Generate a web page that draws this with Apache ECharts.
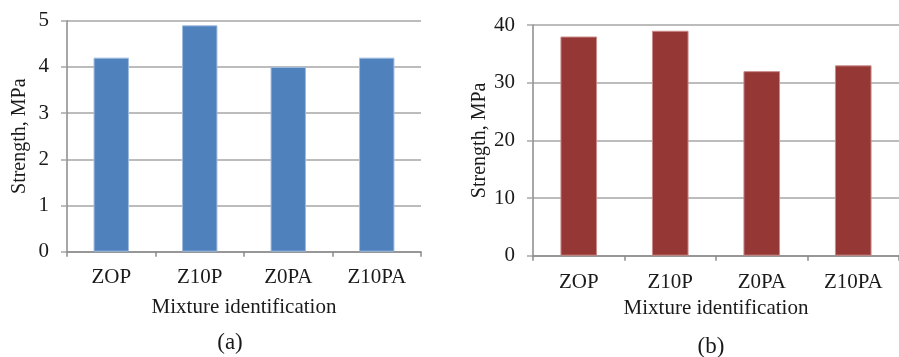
<!DOCTYPE html>
<html>
<head>
<meta charset="utf-8">
<script src="https://cdn.jsdelivr.net/npm/echarts@6/dist/echarts.min.js"></script>
<style>
  html, body { margin: 0; padding: 0; background: #fff; }
  #chart { width: 899px; height: 357px; }
</style>
</head>
<body>
<div id="chart"></div>
<script>
// Mixture identifiers shared by both panels
const categories = ['ZOP', 'Z10P', 'Z0PA', 'Z10PA'];
// Panel (a): strength in MPa
const strengthA = [4.2, 4.9, 4.0, 4.2];
// Panel (b): strength in MPa
const strengthB = [38, 39, 32, 33];
// Y-axis scales
const yMaxA = 5, yStepA = 1;
const yMaxB = 40, yStepB = 10;
const panelLabels = ['(a)', '(b)'];

const FONT = 'Liberation Serif';
const TEXT = '#1a1a1a';
const AXIS = '#8a8a8a';
const GRID = '#a6a6a6';

function xAxisFor(gridIndex, labelMargin, nameGap) {
  return {
    type: 'category',
    gridIndex,
    data: categories,
    name: 'Mixture identification',
    nameLocation: 'middle',
    nameGap: nameGap,
    nameTextStyle: { fontFamily: FONT, fontSize: 21, color: TEXT },
    axisLine: { lineStyle: { color: AXIS, width: 1.5 } },
    axisTick: { show: true, length: 5, lineStyle: { color: AXIS, width: 1.5 } },
    axisLabel: { fontFamily: FONT, fontSize: 21, color: TEXT, margin: labelMargin },
    splitLine: { show: false }
  };
}

function yAxisFor(gridIndex, max, step, gap, margin) {
  return {
    type: 'value',
    gridIndex,
    min: 0,
    max,
    interval: step,
    name: 'Strength, MPa',
    nameLocation: 'middle',
    nameRotate: 90,
    nameGap: gap,
    nameTextStyle: { fontFamily: FONT, fontSize: 20, color: TEXT },
    axisLine: { show: true, lineStyle: { color: AXIS, width: 1.5 } },
    axisTick: { show: true, length: 6, lineStyle: { color: GRID, width: 1.5 } },
    axisLabel: { fontFamily: FONT, fontSize: 21, color: TEXT, margin: margin },
    splitLine: { show: true, lineStyle: { color: GRID, width: 1.5 } }
  };
}

const panelText = (label, x, y) => ({
  type: 'text',
  x, y,
  style: {
    text: label,
    fontFamily: FONT,
    fontSize: 23,
    fill: TEXT,
    textAlign: 'center',
    textVerticalAlign: 'middle'
  }
});

const chart = echarts.init(document.getElementById('chart'), null, { renderer: 'canvas' });
chart.setOption({
  animation: false,
  backgroundColor: '#ffffff',
  graphic: [
    panelText(panelLabels[0], 230, 343),
    panelText(panelLabels[1], 711, 347)
  ],
  grid: [
    { left: 67, top: 20.7, width: 354, height: 231 },
    { left: 533, top: 25, width: 378, height: 230.7 }
  ],
  xAxis: [xAxisFor(0, 15, 45), xAxisFor(1, 16, 41)],
  yAxis: [yAxisFor(0, yMaxA, yStepA, 37, 18), yAxisFor(1, yMaxB, yStepB, 42, 18)],
  series: [
    {
      type: 'bar', xAxisIndex: 0, yAxisIndex: 0, data: strengthA, barWidth: '40%',
      itemStyle: { color: '#4f81bd', borderColor: '#9fbbdf', borderWidth: 1 }
    },
    {
      type: 'bar', xAxisIndex: 1, yAxisIndex: 1, data: strengthB, barWidth: '40%',
      itemStyle: { color: '#953735', borderColor: '#c98a88', borderWidth: 1 }
    }
  ]
});
</script>
</body>
</html>
